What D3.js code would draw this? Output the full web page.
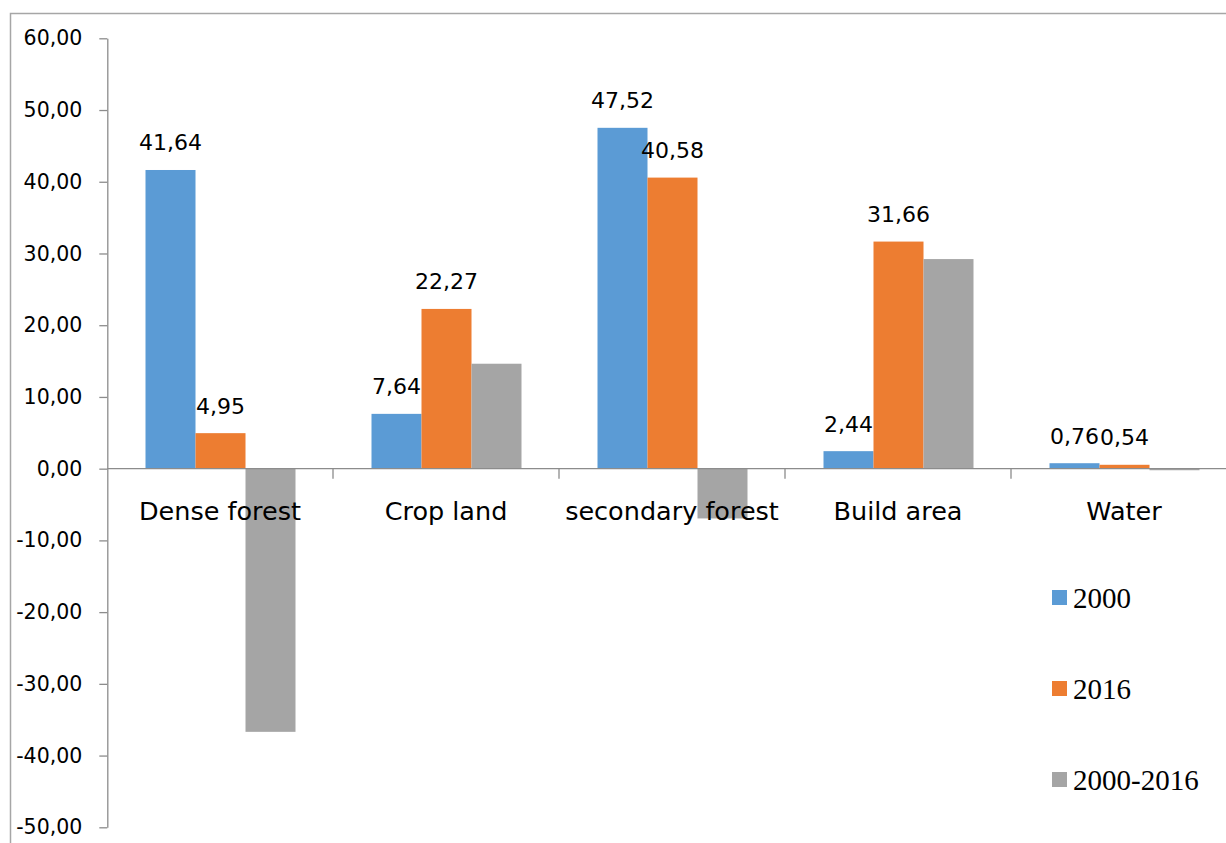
<!DOCTYPE html>
<html>
<head>
<meta charset="utf-8">
<script src="https://cdn.jsdelivr.net/npm/d3@7"></script>
<style>
  html, body { margin: 0; padding: 0; background: #fff; overflow: hidden; }
  svg { display: block; }
</style>
</head>
<body>
<svg id="chart" width="1226" height="843"></svg>
<script>
const categories = ["Dense forest", "Crop land", "secondary forest", "Build area", "Water"];
const seriesNames = ["2000", "2016", "2000-2016"];
const values2000 = [41.64, 7.64, 47.52, 2.44, 0.76];
const values2016 = [4.95, 22.27, 40.58, 31.66, 0.54];
const valuesChange = [-36.69, 14.63, -6.94, 29.22, -0.22];
const yTicks = [60, 50, 40, 30, 20, 10, 0, -10, -20, -30, -40, -50];
const colors = ["#5B9BD5", "#ED7D31", "#A5A5A5"];
const labelledSeries = ["2000", "2016"];

const seriesValues = [values2000, values2016, valuesChange];

const locale = d3.formatLocale({decimal: ",", thousands: ".", grouping: [3], currency: ["", ""], minus: "-"});
const fmt = locale.format(".2f");

const svg = d3.select("#chart");

// outer chart border
svg.append("rect")
  .attr("x", 10.5).attr("y", 13.5)
  .attr("width", 1300).attr("height", 900)
  .attr("fill", "none")
  .attr("stroke", "#a6a6a6")
  .attr("stroke-width", 1.5);

const y = d3.scaleLinear().domain([-50, 60]).range([827.3, 38.3]);
const x0 = d3.scaleBand().domain(categories).range([107, 1237]).padding(0);
const x1 = d3.scaleBand().domain(seriesNames).range([38.5, 188.5]).padding(0);

// bars
const data = [];
categories.forEach((c, i) => {
  seriesNames.forEach((s, j) => {
    data.push({cat: c, series: s, value: seriesValues[j][i], color: colors[j]});
  });
});

svg.append("g").selectAll("rect")
  .data(data)
  .join("rect")
  .attr("x", d => x0(d.cat) + x1(d.series))
  .attr("width", x1.bandwidth())
  .attr("y", d => y(Math.max(0, d.value)))
  .attr("height", d => Math.abs(y(d.value) - y(0)))
  .attr("fill", d => d.color);

// y axis
const yAxis = d3.axisLeft(y).tickValues(yTicks).tickSize(8).tickSizeOuter(0).tickFormat(fmt);
const gy = svg.append("g").attr("transform", "translate(107.3,0)").call(yAxis);
gy.select(".domain").attr("stroke", "#8c8c8c").attr("stroke-width", 1.3);
gy.selectAll(".tick line").attr("stroke", "#8c8c8c").attr("stroke-width", 1.3);
gy.selectAll(".tick text")
  .attr("x", -25)
  .attr("font-family", "DejaVu Sans")
  .attr("font-size", 20.5)
  .attr("fill", "#000");

// zero line (category axis)
svg.append("line")
  .attr("x1", 107.3).attr("x2", 1226)
  .attr("y1", y(0)).attr("y2", y(0))
  .attr("stroke", "#8c8c8c").attr("stroke-width", 1.3);

// category tick marks at group boundaries
svg.append("g").selectAll("line")
  .data(categories.slice(1))
  .join("line")
  .attr("x1", d => x0(d)).attr("x2", d => x0(d))
  .attr("y1", y(0)).attr("y2", y(0) + 10)
  .attr("stroke", "#8c8c8c").attr("stroke-width", 1.3);

// data labels
svg.append("g").selectAll("text")
  .data(data.filter(d => labelledSeries.includes(d.series)))
  .join("text")
  .attr("x", d => x0(d.cat) + x1(d.series) + x1.bandwidth() / 2)
  .attr("y", d => y(d.value) - 19.5)
  .attr("text-anchor", "middle")
  .attr("font-family", "DejaVu Sans")
  .attr("font-size", 22)
  .attr("fill", "#000")
  .text(d => fmt(d.value));

// category labels
svg.append("g").selectAll("text")
  .data(categories)
  .join("text")
  .attr("x", d => x0(d) + x0.bandwidth() / 2)
  .attr("y", y(0) + 51)
  .attr("text-anchor", "middle")
  .attr("font-family", "DejaVu Sans")
  .attr("font-size", 25.5)
  .attr("fill", "#000")
  .text(d => d);

// legend
const legend = svg.append("g").selectAll("g")
  .data(seriesNames)
  .join("g")
  .attr("transform", (d, i) => `translate(1052, ${590 + i * 91})`);
legend.append("rect")
  .attr("width", 15).attr("height", 15)
  .attr("fill", (d, i) => colors[i]);
legend.append("text")
  .attr("x", 21).attr("y", 18)
  .attr("font-family", "Liberation Serif")
  .attr("font-size", 29)
  .attr("fill", "#000")
  .text(d => d);
</script>
</body>
</html>
